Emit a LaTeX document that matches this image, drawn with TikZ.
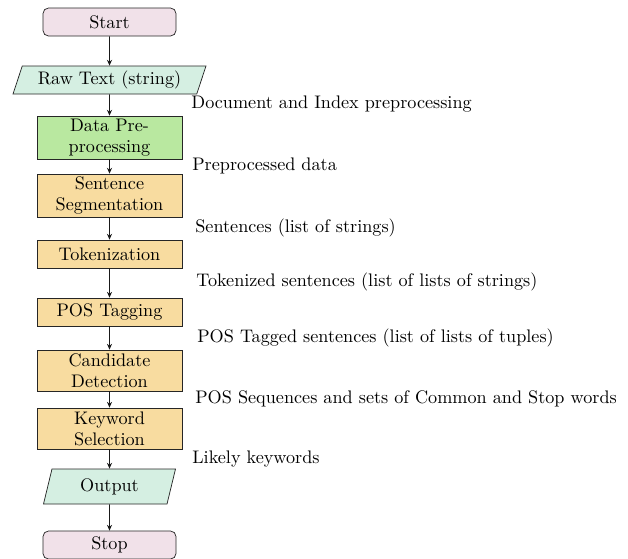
\documentclass[tikz,border=0pt]{standalone}
\usetikzlibrary{shapes.geometric,arrows.meta}
\definecolor{pinkfill}{HTML}{F1E1E9}
\definecolor{mintfill}{HTML}{D5EFE2}
\definecolor{greenfill}{HTML}{B9E8A0}
\definecolor{orangefill}{HTML}{F8DCA0}
\begin{document}
\begin{tikzpicture}[x=0.55pt,y=-0.55pt,
  every node/.style={font=\fontsize{10}{11.5}\selectfont},
  termbox/.style={draw=black!85, fill=pinkfill, rounded corners=3pt, minimum width={133*0.55pt}, minimum height={28*0.55pt}, inner sep=1pt},
  iobox/.style={draw=black!85, fill=mintfill, trapezium, trapezium left angle=67, trapezium right angle=113, trapezium stretches body, inner sep=1pt},
  prepbox/.style={draw=black!85, fill=greenfill, minimum width={145*0.55pt}, align=center, inner sep=1pt},
  procbox/.style={draw=black!85, fill=orangefill, minimum width={145*0.55pt}, align=center, inner sep=1pt},
  flow/.style={draw=black!90, line width=0.5pt, -{Stealth[length=3.2pt,width=2.8pt]}},
  lbl/.style={anchor=west, inner sep=0pt}
]
\useasboundingbox (0,0) rectangle (628,558);
\node[termbox] (start) at (109.5,22) {Start};
\node[iobox, minimum width={193*0.55pt}, minimum height={28*0.55pt}] (raw) at (109.5,80) {Raw Text (string)};
\node[prepbox, minimum height={43*0.55pt}] (pre) at (109.5,137.5) {Data Pre-\\processing};
\node[procbox, minimum height={43*0.55pt}] (seg) at (109.5,195.5) {Sentence\\Segmentation};
\node[procbox, minimum height={28*0.55pt}] (tok) at (109.5,254) {Tokenization};
\node[procbox, minimum height={28*0.55pt}] (pos) at (109.5,312) {POS Tagging};
\node[procbox, minimum height={41*0.55pt}] (cand) at (109.5,370.5) {Candidate\\Detection};
\node[procbox, minimum height={41*0.55pt}] (key) at (109.5,428.5) {Keyword\\Selection};
\node[iobox, minimum width={132*0.55pt}, minimum height={35*0.55pt}] (out) at (109.5,486.5) {Output};
\node[termbox] (stop) at (109.5,545) {Stop};

\draw[flow] (start) -- (raw);
\draw[flow] (raw) -- (pre);
\draw[flow] (pre) -- (seg);
\draw[flow] (seg) -- (tok);
\draw[flow] (tok) -- (pos);
\draw[flow] (pos) -- (cand);
\draw[flow] (cand) -- (key);
\draw[flow] (key) -- (out);
\draw[flow] (out) -- (stop);

\node[lbl] (l1) at (191,104) {Document and Index preprocessing};
\node[lbl] (l2) at (192,166) {Preprocessed data};
\node[lbl] (l3) at (195,228) {Sentences (list of strings)};
\node[lbl] (l4) at (196,282) {Tokenized sentences (list of lists of strings)};
\node[lbl] (l5) at (197,338) {POS Tagged sentences (list of lists of tuples)};
\node[lbl] (l6) at (195,399) {POS Sequences and sets of Common and Stop words};
\node[lbl] (l7) at (192,459) {Likely keywords};
\end{tikzpicture}
\end{document}
